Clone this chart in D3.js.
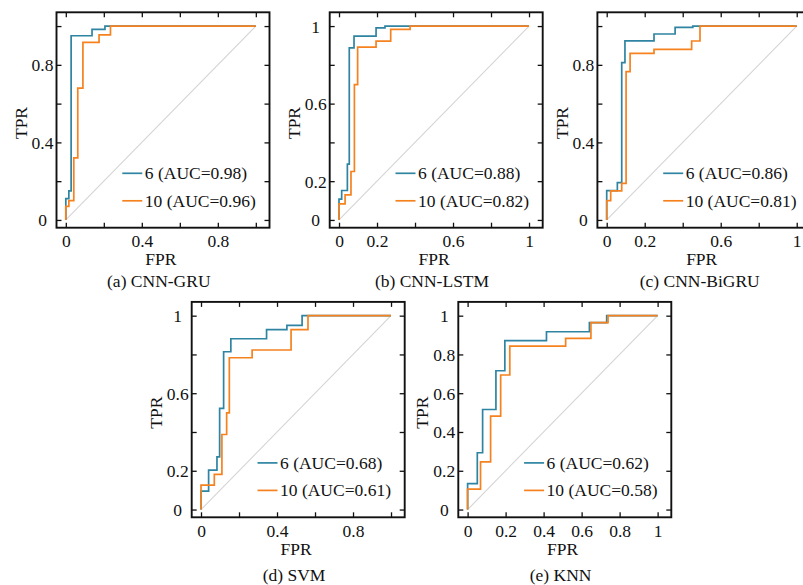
<!DOCTYPE html>
<html>
<head>
<meta charset="utf-8">
<script src="https://cdn.jsdelivr.net/npm/d3@7"></script>
<style>
  html, body { margin: 0; padding: 0; background: #ffffff; }
  svg { display: block; }
  text { font-family: "Liberation Serif", "Times New Roman", serif; fill: #111; }
</style>
</head>
<body>
<script>
// ---------------- DATA ----------------
const captions = ["(a) CNN-GRU", "(b) CNN-LSTM", "(c) CNN-BiGRU", "(d) SVM", "(e) KNN"];
const seriesNames = ["6", "10"];
const aucValues = [[0.98, 0.96], [0.88, 0.82], [0.86, 0.81], [0.68, 0.61], [0.62, 0.58]];

const tickValues = [0, 0.2, 0.4, 0.6, 0.8, 1];
const xTickLabels = [[0, 0.4, 0.8], [0, 0.2, 0.6, 1], [0, 0.2, 0.6, 1], [0, 0.4, 0.8], [0, 0.2, 0.4, 0.6, 0.8, 1]];
const yTickLabels = [[0, 0.4, 0.8], [0, 0.2, 0.6, 1], [0, 0.4, 0.8], [0, 0.2, 0.6, 1], [0, 0.2, 0.4, 0.6, 0.8, 1]];

// ROC step vertices: (FPR where the jump happens, TPR after the jump)
const gru6Fpr  = [0, 0, 0.016, 0.028, 0.138, 0.206, 1];
const gru6Tpr  = [0, 0.11, 0.15, 0.95, 0.983, 1, 1];
const gru10Fpr = [0, 0, 0.016, 0.042, 0.063, 0.090, 0.175, 0.235, 1];
const gru10Tpr = [0, 0.07, 0.10, 0.32, 0.68, 0.916, 0.955, 1, 1];

const lstm6Fpr  = [0, 0, 0.014, 0.044, 0.054, 0.079, 0.195, 0.242, 1];
const lstm6Tpr  = [0, 0.107, 0.152, 0.288, 0.888, 0.948, 0.991, 1, 1];
const lstm10Fpr = [0, 0, 0.032, 0.063, 0.081, 0.098, 0.195, 0.272, 0.374, 1];
const lstm10Tpr = [0, 0.083, 0.129, 0.25, 0.698, 0.891, 0.922, 0.983, 1, 1];

const bigru6Fpr  = [0, 0, 0.056, 0.079, 0.096, 0.249, 0.36, 0.453, 1];
const bigru6Tpr  = [0, 0.151, 0.192, 0.811, 0.924, 0.959, 0.993, 1, 1];
const bigru10Fpr = [0, 0, 0.021, 0.079, 0.102, 0.123, 0.249, 0.447, 0.491, 1];
const bigru10Tpr = [0, 0.10, 0.15, 0.189, 0.765, 0.859, 0.88, 0.923, 1, 1];

const svm6Fpr  = [0, 0, 0.04, 0.084, 0.098, 0.119, 0.157, 0.345, 0.452, 0.532, 1];
const svm6Tpr  = [0, 0.095, 0.203, 0.272, 0.522, 0.814, 0.881, 0.928, 0.95, 1, 1];
const svm10Fpr = [0, 0, 0.07, 0.11, 0.135, 0.149, 0.269, 0.474, 0.563, 1];
const svm10Tpr = [0, 0.126, 0.181, 0.387, 0.499, 0.783, 0.823, 0.928, 1, 1];

const knn6Fpr  = [0, 0, 0.051, 0.079, 0.149, 0.196, 0.415, 0.641, 0.732, 1];
const knn6Tpr  = [0, 0.134, 0.293, 0.516, 0.716, 0.871, 0.917, 0.964, 1, 1];
const knn10Fpr = [0, 0, 0.068, 0.121, 0.174, 0.222, 0.516, 0.649, 0.739, 1];
const knn10Tpr = [0, 0.105, 0.246, 0.482, 0.694, 0.843, 0.883, 0.964, 1, 1];

const curveData = [
  [[gru6Fpr, gru6Tpr], [gru10Fpr, gru10Tpr]],
  [[lstm6Fpr, lstm6Tpr], [lstm10Fpr, lstm10Tpr]],
  [[bigru6Fpr, bigru6Tpr], [bigru10Fpr, bigru10Tpr]],
  [[svm6Fpr, svm6Tpr], [svm10Fpr, svm10Tpr]],
  [[knn6Fpr, knn6Tpr], [knn10Fpr, knn10Tpr]]
];

// ---------------- LAYOUT / STYLE ----------------
const W = 803, H = 585;
const colors = ["#2f84a2", "#f5821f"];
const FW = 213, FH = 215.4;
const layout = [
  { left: 56.5,  top: 12.3,  capY: 287 },
  { left: 329.7, top: 12.3,  capY: 287 },
  { left: 597.4, top: 12.3,  capY: 287 },
  { left: 191.7, top: 301.9, capY: 580.5 },
  { left: 458.3, top: 301.9, capY: 580.5 }
];
const fontSize = 17.5;
const serif = "'Liberation Serif', 'Times New Roman', serif";

const svg = d3.select("body").append("svg").attr("width", W).attr("height", H);

const has = (arr, v) => arr.some(a => Math.abs(a - v) < 1e-9);
const fmt = v => String(v);

layout.forEach((L, i) => {
  const g = svg.append("g").attr("transform", `translate(${L.left},${L.top})`);
  const x = d3.scaleLinear().domain([-0.049, 1.072]).range([0, FW]);
  const y = d3.scaleLinear().domain([-0.04, 1.071]).range([FH, 0]);

  // chance diagonal
  g.append("path")
    .datum([[0, 0], [1, 1]])
    .attr("d", d3.line().x(d => x(d[0])).y(d => y(d[1])))
    .attr("fill", "none").attr("stroke", "#d4d4d4").attr("stroke-width", 1.1);

  // ROC curves
  const line = d3.line().x(d => x(d[0])).y(d => y(d[1])).curve(d3.curveStepAfter);
  curveData[i].forEach((c, s) => {
    const pts = c[0].map((f, k) => [f, c[1][k]]);
    g.append("path").datum(pts).attr("d", line)
      .attr("fill", "none").attr("stroke", colors[s]).attr("stroke-width", 1.7)
      .attr("stroke-linejoin", "miter");
  });

  // axes (inward ticks on all sides)
  const xl = xTickLabels[i], yl = yTickLabels[i];
  const bottom = g.append("g").attr("transform", `translate(0,${FH})`)
    .call(d3.axisBottom(x).tickValues(tickValues).tickSize(-5).tickPadding(6.8)
      .tickFormat(v => has(xl, v) ? fmt(v) : ""));
  const left = g.append("g")
    .call(d3.axisLeft(y).tickValues(tickValues).tickSize(-5)
      .tickFormat(v => has(yl, v) ? fmt(v) : ""));
  const top = g.append("g")
    .call(d3.axisTop(x).tickValues(tickValues).tickSize(-5).tickFormat(""));
  const right = g.append("g").attr("transform", `translate(${FW},0)`)
    .call(d3.axisRight(y).tickValues(tickValues).tickSize(-5).tickFormat(""));
  [bottom, left, top, right].forEach(a => {
    a.attr("font-family", serif).attr("font-size", fontSize);
    a.select(".domain").remove();
    a.selectAll(".tick line").attr("stroke", "#111").attr("stroke-width", 1.3);
    a.selectAll("text").attr("font-family", serif)
      .attr("font-size", fontSize).attr("fill", "#111");
  });
  left.selectAll("text").attr("text-anchor", "middle").attr("x", -14).attr("dy", "0.34em");

  // frame
  g.append("rect").attr("x", 0).attr("y", 0).attr("width", FW).attr("height", FH)
    .attr("fill", "none").attr("stroke", "#111").attr("stroke-width", 1.9);

  // axis titles
  g.append("text").attr("x", x(0.5)).attr("y", FH + 37.5).attr("text-anchor", "middle")
    .attr("font-size", fontSize).text("FPR");
  g.append("text")
    .attr("transform", `translate(-36,${y(0.5)}) rotate(-90)`)
    .attr("text-anchor", "middle").attr("dy", "0.35em")
    .attr("font-size", fontSize).text("TPR");

  // caption
  svg.append("text").attr("x", L.left + x(0.5) - 2).attr("y", L.capY).attr("text-anchor", "middle")
    .attr("font-size", fontSize).text(captions[i]);

  // legend
  const lg = g.append("g").attr("transform", `translate(65.8,${FH - 54.4})`);
  seriesNames.forEach((name, s) => {
    const row = lg.append("g").attr("transform", `translate(0,${s * 27.5})`);
    row.append("line").attr("x1", 0).attr("x2", 20).attr("y1", 0).attr("y2", 0)
      .attr("stroke", colors[s]).attr("stroke-width", 1.7);
    row.append("text").attr("x", 22.5).attr("y", 6)
      .attr("font-size", fontSize)
      .text(`${name} (AUC=${aucValues[i][s].toFixed(2)})`);
  });
});
</script>
</body>
</html>
